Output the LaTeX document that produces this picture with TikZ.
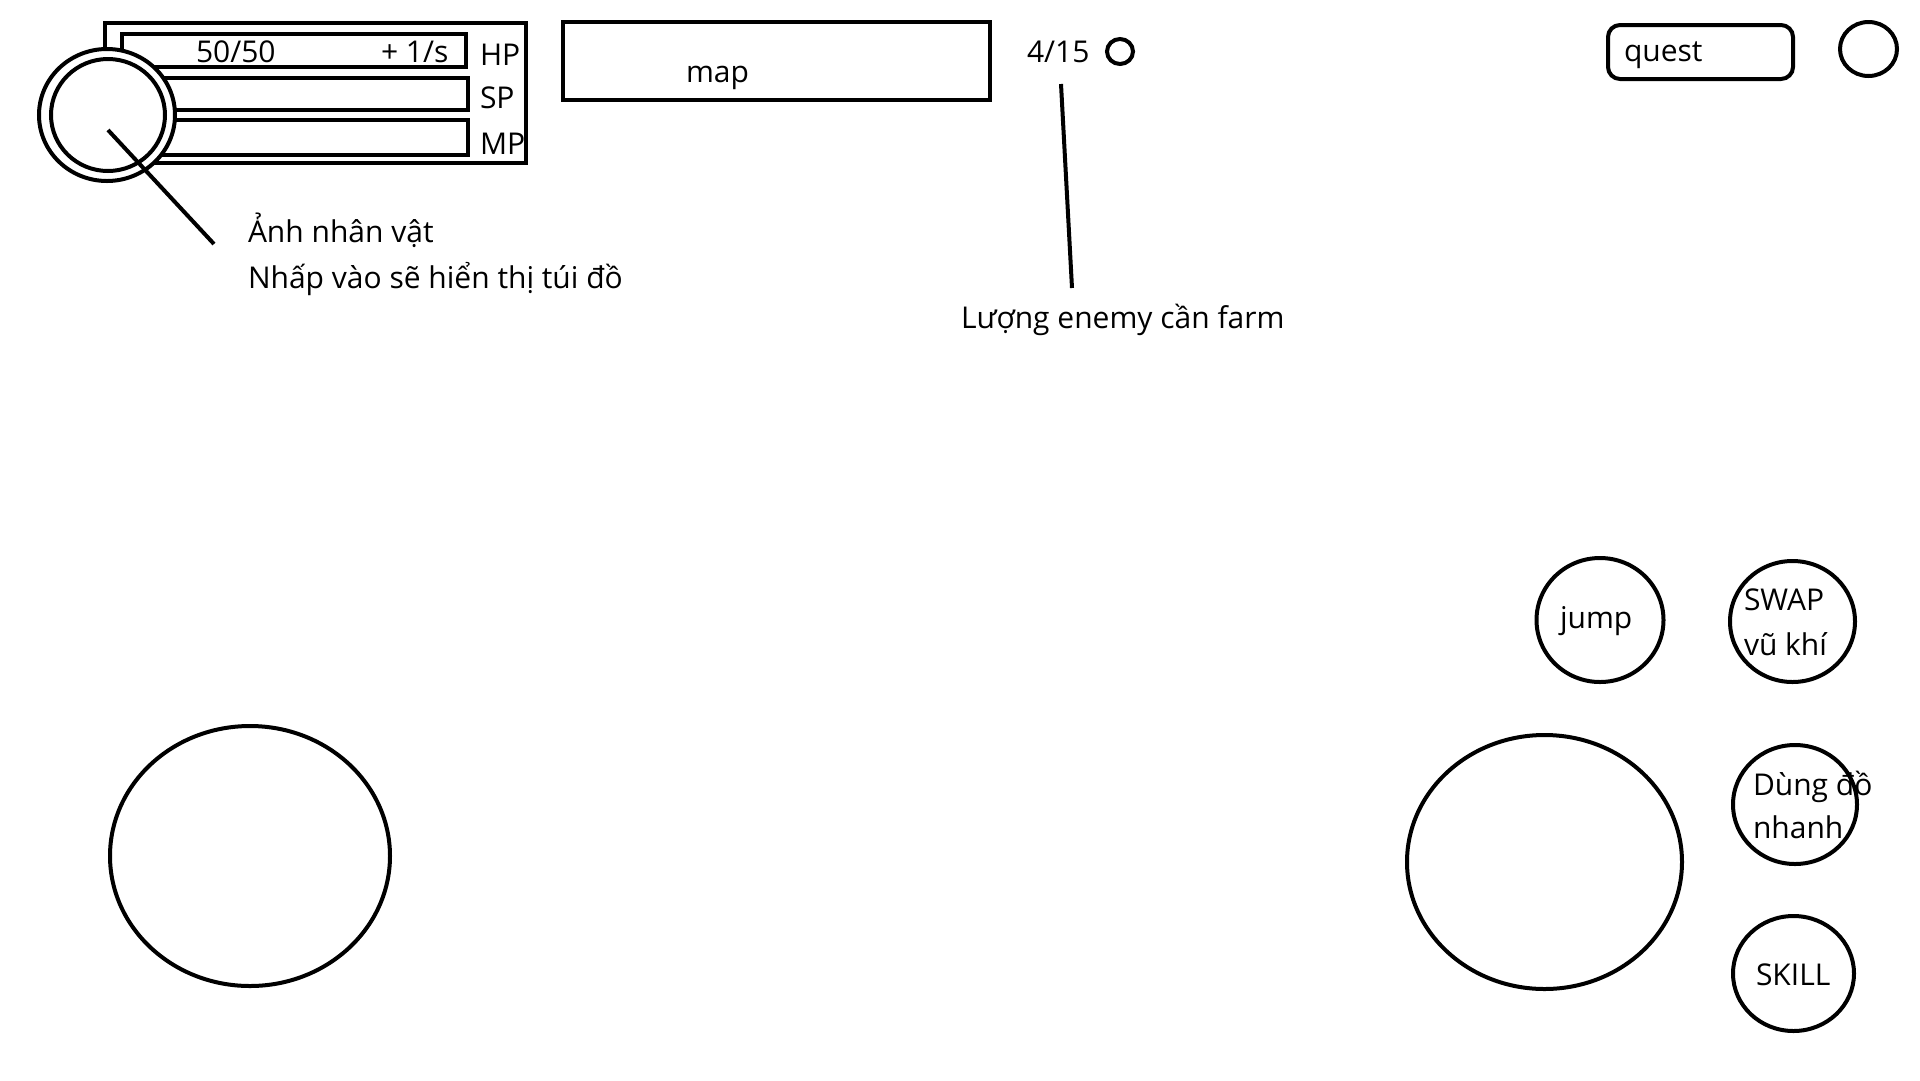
\documentclass[tikz,border=0pt]{standalone}
\usepackage{fontspec}
\setmainfont{Open Sans}
\usetikzlibrary{shapes.geometric}
\tikzset{inner sep=0pt}

\begin{document}
\begin{tikzpicture}[x=1pt,y=-1pt,line width=4pt,
        bar/.style={draw,rectangle},
        ring/.style={draw,ellipse},
        txt/.style={anchor=base west,font=\fontsize{30}{36}\selectfont}]
    \useasboundingbox (0,0) rectangle (1920,1080);
    \fill[white] (0,0) rectangle (1920,1080);

    \node[bar,minimum width=421,minimum height=140.5] (frame) at (315.5,92.75) {};
    \node[bar,minimum width=344,minimum height=33.5] (HP) at (294,50.25) {};
    \node[bar,minimum width=346,minimum height=32] (SP) at (295,94) {};
    \node[bar,minimum width=346,minimum height=35.5] (MP) at (295,137.25) {};
    \node[ring,fill=white,minimum width=136,minimum height=132] (avatar) at (107,115) {};
    \node[ring,minimum width=114,minimum height=112] (photo) at (108,115) {};

    \node[txt] (hpval) at (194,62) {50/50};
    \node[txt] (regen) at (379,62) {+ 1/s};
    \node[txt] (hplbl) at (478,65) {HP};
    \node[txt] (splbl) at (478,108) {SP};
    \node[txt] (mplbl) at (478,154) {MP};

    \coordinate (avpin) at (108,130);
    \coordinate (avtip) at (214,244);
    \draw (avpin) -- (avtip);
    \node[txt] (avname) at (246,242) {Ảnh nhân vật};
    \node[txt] (avnote) at (246,288) {Nhấp vào sẽ hiển thị túi đồ};

    \node[bar,minimum width=427,minimum height=78] (mapbox) at (776.5,61) {};
    \node[txt] (maplbl) at (684,82) {map};

    \node[txt] (count) at (1025,62) {4/15};
    \node[ring,minimum width=26,minimum height=25] (dot) at (1120,51.5) {};
    \coordinate (cntpin) at (1061,84);
    \coordinate (cnttip) at (1072,288);
    \draw (cntpin) -- (cnttip);
    \node[txt] (enemy) at (959,328) {Lượng enemy cần farm};

    \node[bar,rounded corners=12pt,minimum width=185,minimum height=54] (quest) at (1700.5,52) {};
    \node[txt] (questlbl) at (1622,61) {quest};
    \node[ring,minimum width=57,minimum height=54] (menu) at (1868.5,49) {};

    \node[ring,minimum width=280,minimum height=260] (stickL) at (250,856) {};
    \node[ring,minimum width=275,minimum height=254] (stickR) at (1544.5,862) {};

    \node[ring,minimum width=127,minimum height=124] (jump) at (1600,620) {};
    \node[txt] (jumplbl) at (1558,628) {jump};
    \node[ring,minimum width=125,minimum height=121] (swap) at (1792.5,621.5) {};
    \node[txt] (swaplbl) at (1742,610) {SWAP};
    \node[txt] (swaplbl2) at (1742,655) {vũ khí};
    \node[ring,minimum width=124,minimum height=119] (item) at (1795,804.5) {};
    \node[txt] (itemlbl) at (1751,795) {Dùng đồ};
    \node[txt] (itemlbl2) at (1751,838) {nhanh};
    \node[ring,minimum width=121,minimum height=115] (skill) at (1793.5,973.5) {};
    \node[txt] (skilllbl) at (1754,985) {SKILL};
\end{tikzpicture}
\end{document}
